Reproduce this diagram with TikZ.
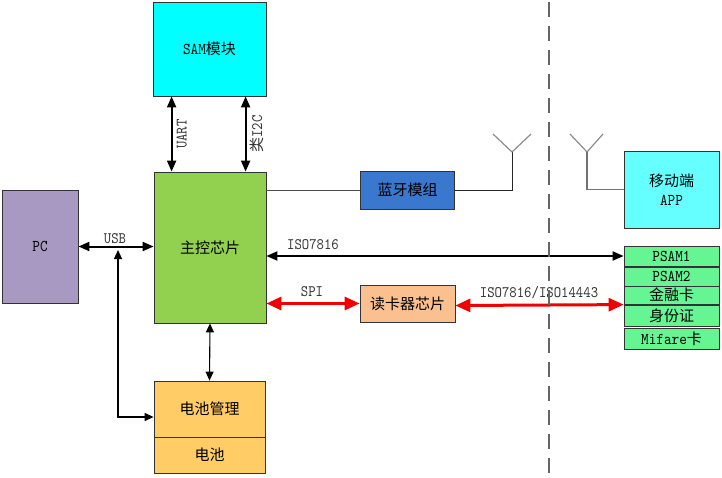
\documentclass[tikz,border=0pt]{standalone}
\usepackage{fontspec}
\newfontfamily\cjkfam{Noto Sans CJK SC}
\newfontfamily\monofam{lmmono10-regular.otf}[FakeStretch=0.88]
\newcommand\zh[1]{{\cjkfam\fontsize{15}{18}\selectfont #1}}
\usetikzlibrary{arrows.meta}
\definecolor{samc}{HTML}{00FFFF}
\definecolor{appc}{HTML}{66FFFF}
\definecolor{mcuc}{HTML}{92D050}
\definecolor{pcc}{HTML}{A899C2}
\definecolor{btc}{HTML}{3A78D0}
\definecolor{rdrc}{HTML}{FAC090}
\definecolor{cardc}{HTML}{66F593}
\definecolor{batc}{HTML}{FFCC66}
\definecolor{redc}{HTML}{F00000}
\tikzset{
  blk/.style={draw=black!80, line width=0.8pt, inner sep=0pt, font=\monofam\fontsize{16.5}{19}\selectfont, align=center},
  cardbox/.style={blk, fill=cardc, minimum width=95pt},
  lbl/.style={inner sep=0pt, font=\monofam\fontsize{16}{17}\selectfont, text=black!80},
  bigarrow/.style={line width=2pt, {Triangle[length=11pt,width=9pt]}-{Triangle[length=11pt,width=9pt]}},
  redarrow/.style={draw=redc, line width=3pt, {Triangle[length=15pt,width=13pt]}-{Triangle[length=15pt,width=13pt]}},
  thinarrow/.style={line width=1.1pt, {Triangle[length=9pt,width=8pt]}-{Triangle[length=9pt,width=8pt]}},
  wire/.style={draw=black!70, line width=0.8pt},
  arm/.style={draw=black!45, line width=1.2pt}
}
\begin{document}
\begin{tikzpicture}[x=1pt,y=-1pt]
\useasboundingbox (0,0) rectangle (722,477);
% boxes
\node[blk, fill=samc, minimum width=113pt, minimum height=94pt] (sam) at (209.5,49) {SAM\zh{模块}};
\node[blk, fill=mcuc, minimum width=112pt, minimum height=151pt] (mcu) at (210,247.5) {\zh{主控芯片}};
\node[blk, fill=pcc, minimum width=76pt, minimum height=113pt] (pc) at (40,246.5) {PC};
\node[blk, fill=btc, minimum width=94pt, minimum height=38pt] (bt) at (407.5,190) {\zh{蓝牙模组}};
\node[blk, fill=appc, minimum width=95pt, minimum height=77pt] (app) at (671.5,189.5) {\zh{移动端}\\APP};
\node[blk, fill=rdrc, minimum width=95pt, minimum height=37pt] (rdr) at (407.5,303.5) {\zh{读卡器芯片}};
\node[cardbox, minimum height=20pt] (psam1) at (671.5,256) {PSAM1};
\node[cardbox, minimum height=19pt] (psam2) at (671.5,276.5) {PSAM2};
\node[cardbox, minimum height=18pt] (jrk) at (671.5,295) {\zh{金融卡}};
\node[cardbox, minimum height=21pt] (sfz) at (671.5,315.5) {\zh{身份证}};
\node[cardbox, minimum height=21pt] (mif) at (671.5,338.5) {Mifare\zh{卡}};
\node[blk, fill=batc, minimum width=111pt, minimum height=56pt] (bm) at (209.5,409) {\zh{电池管理}};
\node[blk, fill=batc, minimum width=111pt, minimum height=36pt] (bat) at (209.5,455) {\zh{电池}};
% SAM links
\draw[bigarrow] ([xshift=19pt]sam.south west) -- ([xshift=18pt]mcu.north west)
  node[lbl, midway, rotate=90, anchor=north, yshift=-4pt] (uart) {UART};
\draw[bigarrow] ([xshift=93pt]sam.south west) -- ([xshift=92pt]mcu.north west)
  node[lbl, midway, rotate=90, anchor=north, yshift=-3pt] (i2c) {\zh{类}I2C};
% bluetooth
\coordinate (ant1) at (512,152);
\coordinate (ant2) at (587,152);
\draw[wire] (bt.west -| mcu.east) -- (bt.west);
\draw[wire, draw=black!85] (bt.east) -| (ant1);
\draw[arm] (ant1) -- ++(-19,-18);
\draw[arm] (ant1) -- ++(19,-18);
\draw[wire, draw=black!55, line width=1.2pt] (app.west) -| (ant2);
\draw[arm] (ant2) -- ++(-17,-18);
\draw[arm] (ant2) -- ++(16,-18);
% ISO7816
\draw[bigarrow] (psam1.west -| mcu.east) -- (psam1.west);
\node[lbl] (iso1) at (313,245) {ISO7816};
% SPI
\draw[redarrow] (rdr.west -| mcu.east) -- (rdr.west);
\node[lbl] (spi) at (312,292) {SPI};
\draw[redarrow] ([yshift=-2pt]rdr.east) -- (sfz.north west);
\node[lbl] (iso2) at (539,293) {ISO7816/ISO14443};
% USB
\draw[bigarrow] (pc.east) -- (pc.east -| mcu.west);
\node[lbl] (usb) at (115,239) {USB};
\coordinate (usbtap) at (118,250);
\draw[thinarrow] (usbtap) |- ([yshift=-8pt]bm.west);
% battery
\draw[thinarrow] (mcu.south) -- (bm.north);
% dashed divider
\coordinate (dtop) at (549,2);
\coordinate (dbot) at (549,477);
\draw[draw=black!60, line width=1.2pt, dash pattern=on 15pt off 9pt] (dtop) -- (dbot);
\end{tikzpicture}
\end{document}
